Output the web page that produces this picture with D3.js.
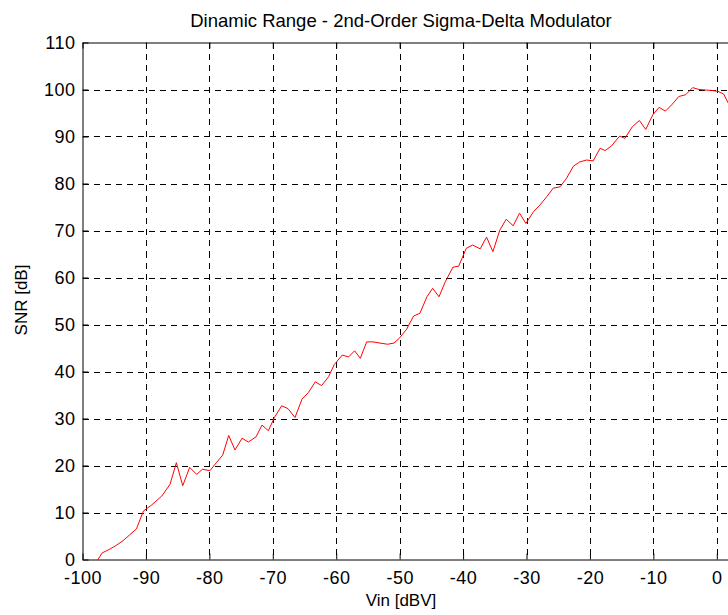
<!DOCTYPE html>
<html>
<head>
<meta charset="utf-8">
<script src="https://cdn.jsdelivr.net/npm/d3@7"></script>
<style>
html,body{margin:0;padding:0;background:#fff;overflow:hidden;}
svg{display:block;}
text{font-family:"Liberation Sans",Arial,Helvetica,sans-serif;fill:#000;}
</style>
</head>
<body>
<svg id="chart" width="728" height="615"></svg>
<script>
// ---- data ----
const vin = [-97.8, -96.9, -95.7, -94.7, -93.6, -92.6, -91.5, -90.4, -89.1, -87.5,
  -86.2, -85.2, -84.2, -83.1, -82.0, -81.1, -79.9, -78.9, -77.9, -76.95,
  -75.96, -74.85, -73.85, -72.64, -71.7, -70.7, -69.75, -68.6, -67.6, -66.5,
  -65.4, -64.4, -63.3, -62.3, -61.2, -60.3, -59.05, -58.06, -57.1, -56.2,
  -55.2, -54.2, -53.1, -51.9, -50.9, -50.1, -48.9, -47.8, -46.8, -45.7,
  -44.8, -43.8, -42.8, -41.6, -40.7, -39.5, -38.5, -37.3, -36.3, -35.3,
  -34.2, -33.2, -32.1, -31.1, -30.1, -28.9, -27.9, -26.8, -25.8, -24.7,
  -23.7, -22.6, -21.6, -20.5, -19.5, -18.4, -17.6, -16.6, -15.3, -14.5,
  -13.3, -12.2, -11.2, -10.1, -9.1, -8.1, -7.0, -6.0, -4.9, -3.8,
  -2.8, -1.8, -0.8, 0.2, 1.1, 1.8];
const snr = [-0.5, 1.4, 2.2, 3.0, 4.0, 5.2, 6.5, 10.3, 11.6, 13.5,
  16.0, 20.6, 15.7, 19.6, 18.1, 19.2, 18.9, 20.6, 22.2, 26.4,
  23.3, 25.8, 25.0, 26.1, 28.6, 27.4, 30.2, 32.7, 32.1, 30.2,
  34.1, 35.5, 37.8, 37.0, 38.9, 41.5, 43.5, 43.1, 44.4, 42.8,
  46.3, 46.3, 46.05, 45.8, 46.05, 47.0, 49.0, 51.8, 52.4, 55.9,
  57.7, 55.9, 59.1, 62.2, 62.4, 66.2, 66.9, 66.1, 68.6, 65.5,
  70.1, 72.4, 71.0, 73.7, 71.5, 74.0, 75.4, 77.2, 79.0, 79.3,
  81.1, 83.7, 84.6, 85.0, 84.8, 87.5, 87.0, 88.0, 90.1, 89.6,
  92.1, 93.4, 91.5, 94.6, 96.2, 95.4, 96.9, 98.5, 98.9, 100.4,
  100.0, 99.9, 99.8, 99.6, 99.0, 97.1];
const xTicks = [-100, -90, -80, -70, -60, -50, -40, -30, -20, -10, 0];
const yTicks = [0, 10, 20, 30, 40, 50, 60, 70, 80, 90, 100, 110];
const xDomain = [-100, 10];
const yDomain = [0, 110];
const titleText = "Dinamic Range - 2nd-Order Sigma-Delta Modulator";
const xLabel = "Vin [dBV]";
const yLabel = "SNR [dB]";

// ---- layout ----
const mLeft = 82.5, mTop = 42.5, mBottom = 559.5;
const mRight = mLeft + (716.8 - 82.5) * 1.1; // 0 dBV at 716.8, domain extends to +10

const svg = d3.select("#chart");
const x = d3.scaleLinear().domain(xDomain).range([mLeft, mRight]);
const y = d3.scaleLinear().domain(yDomain).range([mBottom, mTop]);

svg.append("rect").attr("x", 0).attr("y", 0).attr("width", 728).attr("height", 615).attr("fill", "#fff");

svg.append("defs").append("clipPath").attr("id", "plotclip")
  .append("rect").attr("x", mLeft).attr("y", mTop).attr("width", mRight - mLeft).attr("height", mBottom - mTop);

const grid = svg.append("g").attr("stroke", "#000").attr("stroke-width", 1)
  .attr("stroke-dasharray", "6,5").attr("fill", "none").attr("shape-rendering", "crispEdges");
grid.selectAll("line.v").data(xTicks.filter(d => d > xDomain[0])).enter().append("line")
  .attr("x1", d => Math.round(x(d)) + 0.5).attr("x2", d => Math.round(x(d)) + 0.5)
  .attr("y1", mTop).attr("y2", mBottom);
grid.selectAll("line.h").data(yTicks.filter(d => d > yDomain[0] && d < yDomain[1])).enter().append("line")
  .attr("y1", d => Math.round(y(d)) + 0.5).attr("y2", d => Math.round(y(d)) + 0.5)
  .attr("x1", mLeft).attr("x2", mRight);

// data line
const line = d3.line().x(d => x(d[0])).y(d => y(d[1]));
const pts = vin.map((v, i) => [v, snr[i]]).filter(d => d[1] !== undefined);
svg.append("path").datum(pts).attr("clip-path", "url(#plotclip)")
  .attr("d", line).attr("fill", "none").attr("stroke", "#ff0000").attr("stroke-width", 1);

// axes (MATLAB style, ticks inward)
const fmt = d => String(d);
const xAxis = d3.axisBottom(x).tickValues(xTicks).tickSizeInner(-6).tickSizeOuter(0).tickPadding(12)
  .tickFormat(fmt);
const gx = svg.append("g").attr("transform", `translate(0,${mBottom})`).call(xAxis);
const yAxis = d3.axisLeft(y).tickValues(yTicks).tickSizeInner(-6).tickSizeOuter(0).tickPadding(7)
  .tickFormat(fmt);
const gy = svg.append("g").attr("transform", `translate(${mLeft},0)`).call(yAxis);
const xAxisTop = d3.axisTop(x).tickValues(xTicks).tickSizeInner(-6).tickSizeOuter(0).tickFormat("");
svg.append("g").attr("transform", `translate(0,${mTop})`).call(xAxisTop);
[gx, gy].forEach(g => {
  g.selectAll(".tick line").attr("stroke", "#000");
  g.selectAll("text").style("font-size", "18px").style("letter-spacing", "0.5px").attr("fill", "#000");
});
svg.selectAll("path.domain").attr("stroke", "#000").attr("stroke-width", 1);
gx.selectAll("text").attr("dy", "0.71em");

// title and labels
svg.append("text").attr("x", 401).attr("y", 27).attr("text-anchor", "middle")
  .style("font-size", "18.5px").text(titleText);
svg.append("text").attr("x", 401).attr("y", 606).attr("text-anchor", "middle")
  .style("font-size", "17px").text(xLabel);
svg.append("text").attr("transform", "translate(27,300) rotate(-90)").attr("text-anchor", "middle")
  .style("font-size", "17px").text(yLabel);
</script>
</body>
</html>
